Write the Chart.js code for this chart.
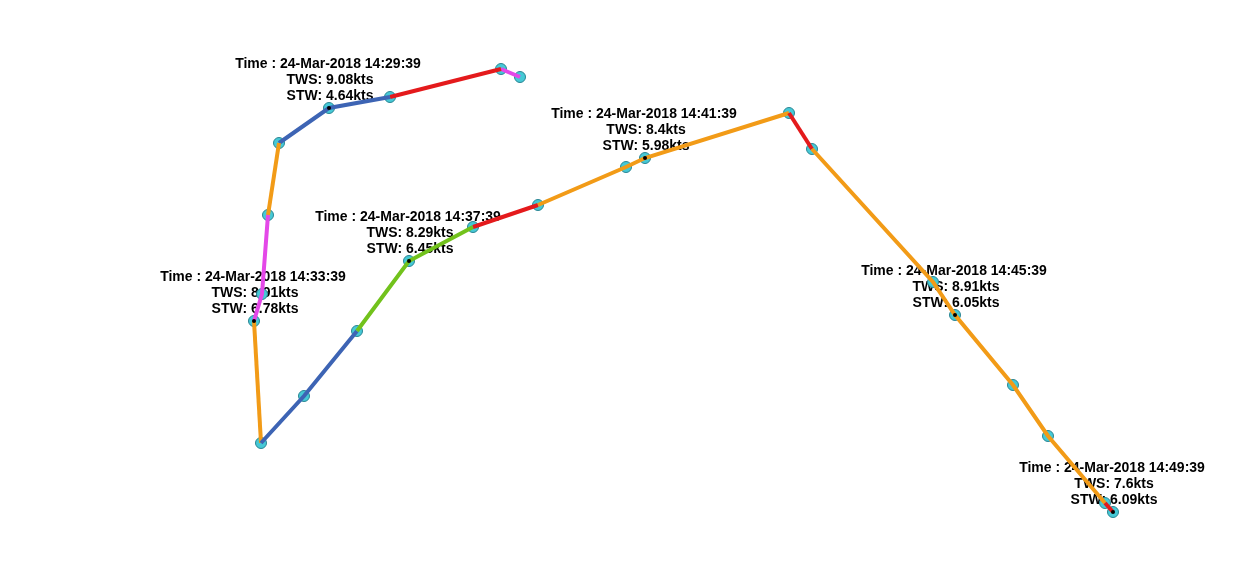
<!DOCTYPE html>
<html>
<head>
<meta charset="utf-8">
<script src="https://cdn.jsdelivr.net/npm/chart.js@4/dist/chart.umd.min.js"></script>
<style>
  html, body { margin: 0; padding: 0; background: #fff; }
  #wrap { width: 1244px; height: 574px; }
</style>
</head>
<body>
<div id="wrap"><canvas id="trackChart" width="1244" height="574"></canvas></div>
<script>
// track positions (east / north, plot units) in time order
const trackEast  = [520, 501, 390, 329, 279, 268, 262, 254, 261, 304, 357, 409, 473, 538, 626, 645, 789, 812, 933, 955, 1013, 1048, 1105, 1113];
const trackNorth = [497, 505, 477, 466, 431, 359, 280, 253, 131, 178, 243, 313, 347, 369, 407, 416, 461, 425, 292, 259, 189, 138, 71, 62];

// colour class of each leg (leg i joins point i and i+1)
const legClass = ['m', 'r', 'b', 'b', 'o', 'm', 'm', 'o', 'b', 'b', 'g', 'g', 'r',
                  'o', 'o', 'o', 'r', 'o', 'o', 'o', 'o', 'o', 'r'];
const classColor = { m: '#e448e8', r: '#e41a1c', b: '#3d64b4', o: '#f29b17', g: '#72c21c' };

// annotated points
const labelIndex = [3, 7, 11, 15, 19, 23];
const labelTime  = ['24-Mar-2018 14:29:39', '24-Mar-2018 14:33:39', '24-Mar-2018 14:37:39',
                    '24-Mar-2018 14:41:39', '24-Mar-2018 14:45:39', '24-Mar-2018 14:49:39'];
const labelTWS   = ['9.08', '8.91', '8.29', '8.4', '8.91', '7.6'];
const labelSTW   = ['4.64', '6.78', '6.45', '5.98', '6.05', '6.09'];

const trackPoints = trackEast.map((x, i) => ({ x: x, y: trackNorth[i] }));
const markPoints = labelIndex.map(i => trackPoints[i]);

// text goes under everything else
const labelPlugin = {
    id: 'labelPlugin',
    beforeDatasetsDraw(chart) {
        const ctx = chart.ctx;
        const xs = chart.scales.x, ys = chart.scales.y;
        ctx.save();
        ctx.fillStyle = '#000';
        ctx.font = 'bold 14px "Liberation Sans", Arial, sans-serif';
        ctx.textAlign = 'center';
        ctx.textBaseline = 'middle';
        labelIndex.forEach((idx, k) => {
            const px = xs.getPixelForValue(trackEast[idx]);
            const py = ys.getPixelForValue(trackNorth[idx]);
            ctx.fillText('Time : ' + labelTime[k], px - 1, py - 44);
            ctx.fillText('TWS: ' + labelTWS[k] + 'kts', px + 1, py - 28);
            ctx.fillText('STW: ' + labelSTW[k] + 'kts', px + 1, py - 12);
        });
        ctx.restore();
    }
};

const ctx = document.getElementById('trackChart').getContext('2d');
new Chart(ctx, {
    type: 'scatter',
    data: {
        datasets: [
            {
                // black dots on the annotated fixes (top)
                data: markPoints,
                pointRadius: 2,
                pointBackgroundColor: '#000',
                pointBorderWidth: 0,
                showLine: false,
                order: 0
            },
            {
                // coloured legs, drawn over the markers
                data: trackPoints,
                showLine: true,
                borderWidth: 4,
                borderColor: '#f29b17',
                segment: {
                    borderColor: c => classColor[legClass[c.p0DataIndex]]
                },
                pointRadius: 0,
                order: 1
            },
            {
                // fix markers (bottom)
                data: trackPoints,
                showLine: false,
                pointRadius: 5.5,
                pointBackgroundColor: '#45c9d6',
                pointBorderColor: '#2a8593',
                pointBorderWidth: 1,
                order: 2
            }
        ]
    },
    options: {
        responsive: false,
        animation: false,
        layout: { padding: 0, autoPadding: false },
        plugins: {
            legend: { display: false },
            tooltip: { enabled: false }
        },
        scales: {
            x: { type: 'linear', min: 0, max: 1244, display: false },
            y: { type: 'linear', min: 0, max: 574, display: false }
        }
    },
    plugins: [labelPlugin]
});
</script>
</body>
</html>
